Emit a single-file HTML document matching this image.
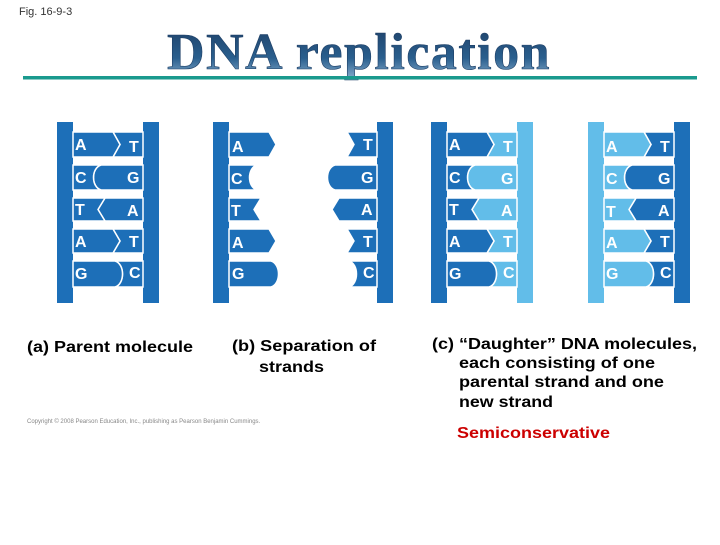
<!DOCTYPE html>
<html><head><style>
body{margin:0;background:#fff;width:720px;height:540px;overflow:hidden;font-family:"Liberation Sans",sans-serif;}
</style></head><body>
<svg width="720" height="540" viewBox="0 0 720 540" xmlns="http://www.w3.org/2000/svg">
<defs>
<linearGradient id="tg" x1="0" y1="0" x2="0" y2="1"><stop offset="0" stop-color="#1e3f66"/><stop offset="0.6" stop-color="#2a5f8e"/><stop offset="1" stop-color="#8fb4d4"/></linearGradient>
<g id="L1"><path d="M16,10 H56 L63,22.5 L56,35 H16Z"/></g>
<g id="L2"><path d="M16,43 H44 C34,46 34,65 44,68 H16Z"/></g>
<g id="L3"><path d="M16,76 H48 L41,87.5 L48,99 H16Z"/></g>
<g id="L4"><path d="M16,107 H56 L63,119 L56,131 H16Z"/></g>
<g id="L5"><path d="M16,139 H58 C68,142 68,162 58,165 H16Z"/></g>
<g id="R1"><path d="M56,10 H86 V35 H56 L63,22.5Z"/></g>
<g id="R2"><path d="M44,43 H86 V68 H44 C34,65 34,46 44,43Z"/></g>
<g id="R3"><path d="M48,76 H86 V99 H48 L41,87.5Z"/></g>
<g id="R4"><path d="M56,107 H86 V131 H56 L63,119Z"/></g>
<g id="R5"><path d="M58,139 H86 V165 H58 C68,162 68,142 58,139Z"/></g>
</defs>
<text x="19" y="15" font-size="11" fill="#333">Fig. 16-9-3</text>
<text x="359" y="69" text-anchor="middle" font-family="Liberation Serif,serif" font-weight="bold" font-size="52" letter-spacing="1.5" fill="url(#tg)" stroke="#1e3f66" stroke-width="0.6">DNA replication</text>
<rect x="23" y="76" width="674" height="3.5" fill="#1a9a8e"/>

<g font-weight="bold" font-size="16" fill="#fff" stroke="none">
<g transform="translate(57,122)">
<rect x="0" y="0" width="16" height="181" fill="#1d6fb8"/><rect x="86" y="0" width="16" height="181" fill="#1d6fb8"/>
<g fill="#1d6fb8" stroke="#fff" stroke-width="1.5">
<use href="#R1"/><use href="#R2"/><use href="#R3"/><use href="#R4"/><use href="#R5"/>
<use href="#L1"/><use href="#L2"/><use href="#L3"/><use href="#L4"/><use href="#L5"/></g>
<text x="18" y="28">A</text><text x="72" y="30">T</text>
<text x="18" y="61">C</text><text x="70" y="61">G</text>
<text x="18" y="93">T</text><text x="70" y="94">A</text>
<text x="18" y="125">A</text><text x="72" y="125">T</text>
<text x="18" y="157">G</text><text x="72" y="156">C</text>
</g>
<g transform="translate(213,122)">
<rect x="0" y="0" width="16" height="181" fill="#1d6fb8"/><rect x="164" y="0" width="16" height="181" fill="#1d6fb8"/>
<g fill="#1d6fb8" stroke="#fff" stroke-width="1.5">
<use href="#L1"/><use href="#L2"/><use href="#L3"/><use href="#L4"/><use href="#L5"/>
<g transform="translate(78,0)"><use href="#R1"/><use href="#R2"/><use href="#R3"/><use href="#R4"/><use href="#R5"/></g></g>
<text x="19" y="30">A</text><text x="150" y="28">T</text>
<text x="18" y="62">C</text><text x="148" y="61">G</text>
<text x="18" y="94">T</text><text x="148" y="93">A</text>
<text x="19" y="126">A</text><text x="150" y="125">T</text>
<text x="19" y="157">G</text><text x="150" y="156">C</text>
</g>
<g transform="translate(431,122)">
<rect x="0" y="0" width="16" height="181" fill="#1d6fb8"/><rect x="86" y="0" width="16" height="181" fill="#62bde9"/>
<g fill="#62bde9" stroke="#fff" stroke-width="1.5"><use href="#R1"/><use href="#R2"/><use href="#R3"/><use href="#R4"/><use href="#R5"/></g>
<g fill="#1d6fb8" stroke="#fff" stroke-width="1.5"><use href="#L1"/><use href="#L2"/><use href="#L3"/><use href="#L4"/><use href="#L5"/></g>
<text x="18" y="28">A</text><text x="72" y="30">T</text>
<text x="18" y="61">C</text><text x="70" y="62">G</text>
<text x="18" y="93">T</text><text x="70" y="94">A</text>
<text x="18" y="125">A</text><text x="72" y="125">T</text>
<text x="18" y="157">G</text><text x="72" y="156">C</text>
</g>
<g transform="translate(588,122)">
<rect x="0" y="0" width="16" height="181" fill="#62bde9"/><rect x="86" y="0" width="16" height="181" fill="#1d6fb8"/>
<g fill="#1d6fb8" stroke="#fff" stroke-width="1.5"><use href="#R1"/><use href="#R2"/><use href="#R3"/><use href="#R4"/><use href="#R5"/></g>
<g fill="#62bde9" stroke="#fff" stroke-width="1.5"><use href="#L1"/><use href="#L2"/><use href="#L3"/><use href="#L4"/><use href="#L5"/></g>
<text x="18" y="30">A</text><text x="72" y="30">T</text>
<text x="18" y="62">C</text><text x="70" y="62">G</text>
<text x="18" y="95">T</text><text x="70" y="94">A</text>
<text x="18" y="126">A</text><text x="72" y="125">T</text>
<text x="18" y="157">G</text><text x="72" y="156">C</text>
</g>
</g>

<g font-size="16" fill="#000" font-weight="bold">
<text x="27" y="352" textLength="166" lengthAdjust="spacingAndGlyphs">(a) Parent molecule</text>
<text x="232" y="351" textLength="144" lengthAdjust="spacingAndGlyphs">(b) Separation of</text>
<text x="259" y="372" textLength="65" lengthAdjust="spacingAndGlyphs">strands</text>
<text x="432" y="349" textLength="265" lengthAdjust="spacingAndGlyphs">(c) “Daughter” DNA molecules,</text>
<text x="459" y="368" textLength="196" lengthAdjust="spacingAndGlyphs">each consisting of one</text>
<text x="459" y="387" textLength="205" lengthAdjust="spacingAndGlyphs">parental strand and one</text>
<text x="459" y="407" textLength="94" lengthAdjust="spacingAndGlyphs">new strand</text>
</g>
<text x="457" y="438" font-size="16" font-weight="bold" fill="#cc0000" textLength="153" lengthAdjust="spacingAndGlyphs">Semiconservative</text>
<text x="27" y="423" font-size="6" fill="#888">Copyright © 2008 Pearson Education, Inc., publishing as Pearson Benjamin Cummings.</text>
</svg>
</body></html>
